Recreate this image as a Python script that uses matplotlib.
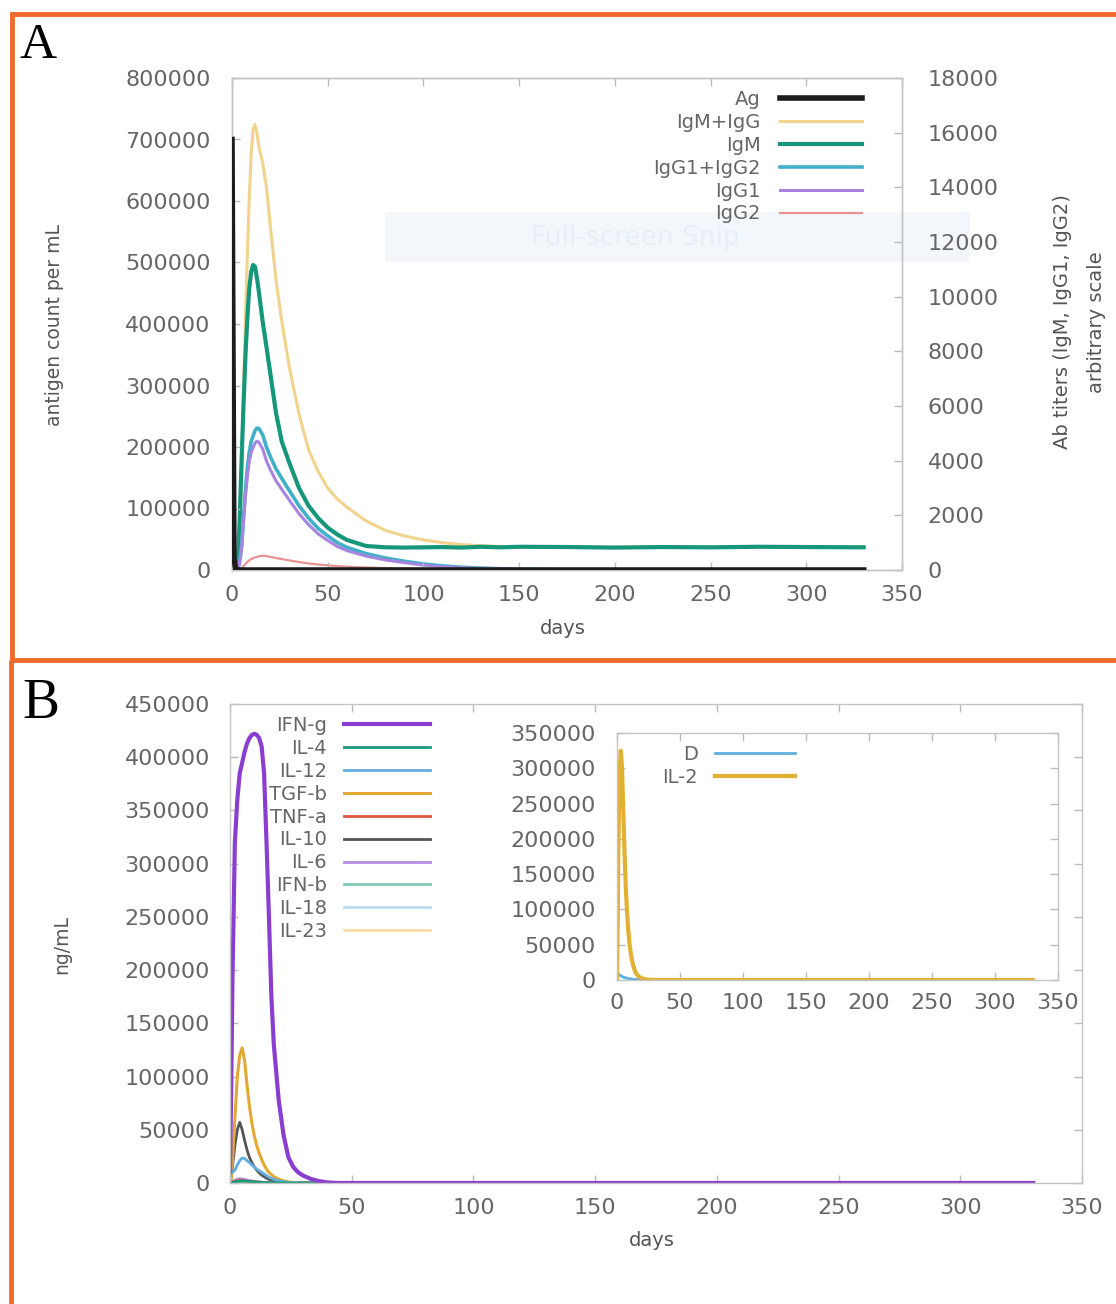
import matplotlib
matplotlib.use("Agg")
import matplotlib.pyplot as plt
from matplotlib.lines import Line2D
from matplotlib.patches import Rectangle

# ---------------- Panel A data ----------------
days_A = [0, 1, 2, 3, 4, 5, 6, 7, 8, 9, 10, 11, 12, 13, 14, 16, 18, 20, 23, 26,
          30, 35, 40, 45, 50, 55, 60, 70, 80, 90, 100, 110, 120, 130, 140, 150,
          175, 200, 225, 250, 275, 300, 330]
ag = [700000, 20000, 0, 0, 0, 0, 0, 0, 0, 0, 0, 0, 0, 0, 0, 0, 0, 0, 0, 0,
      0, 0, 0, 0, 0, 0, 0, 0, 0, 0, 0, 0, 0, 0, 0, 0, 0, 0, 0, 0, 0, 0, 0]
igm_igg = [0, 0, 0, 300, 1500, 3500, 6500, 9300, 11500, 13600, 15200, 16100, 16300, 16000,
           15500, 14900, 14000, 12600, 10600, 9100, 7400, 5700, 4400, 3600, 3000, 2600,
           2300, 1800, 1450, 1250, 1100, 1000, 930, 890, 860, 850, 840, 830, 840, 830,
           845, 840, 830]
igm = [0, 0, 0, 300, 1800, 4000, 6000, 7800, 9200, 10300, 10900, 11160, 11100, 10700,
       10200, 9100, 8160, 7200, 5740, 4700, 3910, 3000, 2350, 1900, 1550, 1300, 1100,
       880, 830, 820, 830, 840, 820, 850, 830, 850, 840, 820, 840, 830, 850, 840, 830]
igg1_igg2 = [0, 0, 0, 0, 300, 840, 1900, 2900, 3700, 4300, 4700, 4900, 5100, 5190, 5180,
             4950, 4500, 4150, 3700, 3350, 2900, 2350, 1900, 1520, 1250, 1000, 830, 600,
             440, 320, 220, 150, 100, 70, 45, 25, 10, 0, 0, 0, 0, 0, 0]
igg1 = [0, 0, 0, 0, 280, 780, 1760, 2680, 3410, 3950, 4300, 4470, 4640, 4710, 4680, 4430,
        3990, 3670, 3260, 2950, 2550, 2060, 1660, 1320, 1080, 860, 710, 510, 370, 270,
        180, 120, 80, 55, 35, 20, 10, 0, 0, 0, 0, 0, 0]
igg2 = [0, 0, 0, 0, 20, 60, 140, 220, 290, 350, 400, 430, 460, 480, 500, 520, 510, 480,
        440, 400, 350, 290, 240, 200, 170, 140, 120, 90, 70, 50, 40, 30, 20, 15, 10, 5,
        0, 0, 0, 0, 0, 0, 0]

# ---------------- Panel B data ----------------
days_B = [0, 0.5, 1, 2, 3, 4, 5, 6, 7, 8, 9, 10, 11, 12, 13, 14, 15, 16, 17, 18, 20, 22,
          24, 26, 28, 30, 33, 36, 40, 45, 50, 60, 80, 100, 150, 200, 250, 300, 330]
ifn_g = [10000, 90000, 190000, 320000, 360000, 385000, 395000, 405000, 413000, 418000,
         421000, 422000, 421000, 418000, 410000, 385000, 320000, 250000, 175000, 130000,
         78000, 45000, 24000, 15000, 10000, 7000, 4000, 2000, 500, 0, 0, 0, 0, 0, 0, 0,
         0, 0, 0]
il_4 = [0, 200, 500, 1000, 1500, 1800, 2000, 1900, 1700, 1500, 1300, 1100, 900, 750, 600,
        500, 400, 300, 250, 200, 120, 80, 50, 30, 20, 10, 0, 0, 0, 0, 0, 0, 0, 0, 0, 0,
        0, 0, 0]
il_12 = [15000, 12000, 10000, 12000, 17000, 21000, 23500, 23000, 21000, 19000, 17000,
         15000, 13000, 11500, 10000, 8500, 7000, 5500, 4500, 3500, 2000, 1200, 600, 300,
         100, 0, 0, 0, 0, 0, 0, 0, 0, 0, 0, 0, 0, 0, 0]
tgf_b = [0, 5000, 20000, 60000, 100000, 120000, 127000, 115000, 92000, 72000, 56000,
         44000, 35000, 28000, 22000, 17000, 13000, 10000, 8000, 6000, 3500, 2000, 1000,
         500, 200, 0, 0, 0, 0, 0, 0, 0, 0, 0, 0, 0, 0, 0, 0]
tnf_a = [0, 300, 800, 1500, 2200, 2500, 2400, 2100, 1800, 1500, 1200, 1000, 800, 650, 500,
         400, 300, 220, 160, 120, 60, 30, 10, 0, 0, 0, 0, 0, 0, 0, 0, 0, 0, 0, 0, 0, 0,
         0, 0]
il_10 = [0, 5000, 15000, 35000, 50000, 57000, 50000, 40000, 31000, 24000, 19000, 15000,
         12000, 9500, 7500, 6000, 4500, 3500, 2700, 2000, 1200, 700, 400, 200, 100, 0,
         0, 0, 0, 0, 0, 0, 0, 0, 0, 0, 0, 0, 0]
il_6 = [0, 500, 1200, 2500, 3500, 4000, 3800, 3300, 2800, 2300, 1900, 1500, 1200, 950,
        750, 600, 450, 350, 270, 200, 110, 60, 30, 10, 0, 0, 0, 0, 0, 0, 0, 0, 0, 0, 0,
        0, 0, 0, 0]
ifn_b = [0, 200, 400, 700, 900, 1000, 950, 850, 750, 650, 550, 450, 380, 300, 250, 200,
         160, 120, 90, 70, 40, 20, 10, 0, 0, 0, 0, 0, 0, 0, 0, 0, 0, 0, 0, 0, 0, 0, 0]
il_18 = [0, 300, 600, 1000, 1300, 1400, 1300, 1150, 1000, 850, 700, 580, 470, 380, 300,
         240, 190, 150, 110, 80, 45, 25, 10, 0, 0, 0, 0, 0, 0, 0, 0, 0, 0, 0, 0, 0, 0,
         0, 0]
il_23 = [0, 200, 500, 800, 1000, 1100, 1000, 900, 780, 660, 550, 450, 370, 300, 240, 190,
         150, 115, 85, 60, 35, 20, 10, 0, 0, 0, 0, 0, 0, 0, 0, 0, 0, 0, 0, 0, 0, 0, 0]

# inset
days_C = [0, 0.5, 1, 2, 3, 4, 5, 6, 7, 8, 9, 10, 11, 12, 13, 14, 15, 16, 17, 18, 20, 22,
          24, 26, 28, 30, 40, 60, 100, 150, 200, 250, 300, 330]
d_cells = [10000, 9500, 9000, 7000, 6000, 5000, 4200, 3500, 3000, 2500, 2100, 1800, 1500,
           1300, 1100, 900, 750, 600, 500, 400, 250, 150, 90, 50, 20, 0, 0, 0, 0, 0, 0,
           0, 0, 0]
il_2 = [0, 80000, 180000, 290000, 325000, 300000, 240000, 180000, 130000, 95000, 70000,
        50000, 37000, 27000, 20000, 14000, 10000, 7500, 5500, 4000, 2200, 1200, 600, 300,
        150, 50, 0, 0, 0, 0, 0, 0, 0, 0]

xticks = [0, 50, 100, 150, 200, 250, 300, 350]
yticks_A_left = [0, 100000, 200000, 300000, 400000, 500000, 600000, 700000, 800000]
yticks_A_right = [0, 2000, 4000, 6000, 8000, 10000, 12000, 14000, 16000, 18000]
yticks_B = [0, 50000, 100000, 150000, 200000, 250000, 300000, 350000, 400000, 450000]
yticks_C = [0, 50000, 100000, 150000, 200000, 250000, 300000, 350000]

# ---------------- figure ----------------
W, H = 1116, 1304
fig = plt.figure(figsize=(W / 100, H / 100), dpi=100)
fig.patch.set_facecolor("white")

def rect(x0, y0, x1, y1):
    return [x0 / W, 1 - y1 / H, (x1 - x0) / W, (y1 - y0) / H]

def ftext(x, y, s, **kw):
    return fig.text(x / W, 1 - y / H, s, **kw)

TICKC = "#666666"
LABC = "#555555"
FRAMEC = "#c4c4c4"
TFS = 16

def style(ax, lpad, bpad):
    for s in ax.spines.values():
        s.set_color(FRAMEC)
        s.set_linewidth(1.0)
    ax.tick_params(axis="both", direction="in", length=6, width=1, color="#bbbbbb",
                   labelcolor=TICKC, labelsize=TFS)
    ax.tick_params(axis="y", pad=lpad)
    ax.tick_params(axis="x", pad=bpad)

def legend(ax, handles, right, top, hl, tp):
    lg = ax.legend(handles=handles, loc="upper right",
                   bbox_to_anchor=(right / W, 1 - top / H),
                   bbox_transform=fig.transFigure, frameon=False, markerfirst=False,
                   fontsize=14, handlelength=hl, handletextpad=tp, labelspacing=0.2,
                   borderpad=0, borderaxespad=0)
    for t in lg.get_texts():
        t.set_color(TICKC)
    return lg

# faint screenshot overlay (behind the axes content)
fig.patches.append(Rectangle((385 / W, 1 - 262 / H), (970 - 385) / W, 50 / H,
                             transform=fig.transFigure, facecolor="#f3f7fb",
                             edgecolor="none", zorder=-1))
ftext(635, 238, "Full-screen Snip", ha="center", va="center", fontsize=19,
      color="#e8eef5", zorder=-0.5)

# ---- Panel A
axA = fig.add_axes(rect(232, 78, 902, 570))
axA.set_xlim(0, 350)
axA.set_ylim(0, 800000)
axA.set_xticks(xticks)
axA.set_yticks(yticks_A_left)
axA.set_xticklabels([str(v) for v in xticks])
axA.set_yticklabels([str(v) for v in yticks_A_left])
style(axA, 15.5, 10.5)
axA.tick_params(axis="x", top=True)
axA.patch.set_visible(False)
axA2 = axA.twinx()
axA2.set_ylim(0, 18000)
axA2.set_yticks(yticks_A_right)
axA2.set_yticklabels([str(v) for v in yticks_A_right])
style(axA2, 18.5, 10.5)
axA2.tick_params(axis="y", left=False, right=True)
axA2.patch.set_visible(False)
axA.set_zorder(2)

lA = []
lA.append(axA.plot(days_A, ag, color="#1c1c1c", lw=4.0, label="Ag", zorder=5)[0])
lA.append(axA2.plot(days_A, igm_igg, color="#f2d38c", lw=2.2, label="IgM+IgG")[0])
lA.append(axA2.plot(days_A, igm, color="#17977a", lw=3.0, label="IgM")[0])
lA.append(axA2.plot(days_A, igg1_igg2, color="#3fb0c8", lw=2.6, label="IgG1+IgG2")[0])
lA.append(axA2.plot(days_A, igg1, color="#a784e0", lw=2.2, label="IgG1")[0])
lA.append(axA2.plot(days_A, igg2, color="#e89292", lw=1.6, label="IgG2")[0])

ftext(563, 628, "days", fontsize=14, color=LABC, ha="center", va="center")
ftext(55, 325, "antigen count per mL", rotation=90, fontsize=13.5, color=LABC,
      ha="center", va="center")
ftext(1062, 322, "Ab titers (IgM, IgG1, IgG2)", rotation=90, ha="center", va="center",
      fontsize=14, color=LABC)
ftext(1096, 322, "arbitrary scale", rotation=90, ha="center", va="center",
      fontsize=14, color=LABC)

legend(axA, lA, 862, 90, 4.2, 1.0)

# ---- Panel B
axB = fig.add_axes(rect(230, 704, 1082, 1183))
axB.set_xlim(0, 350)
axB.set_ylim(0, 450000)
axB.set_xticks(xticks)
axB.set_yticks(yticks_B)
axB.set_xticklabels([str(v) for v in xticks])
axB.set_yticklabels([str(v) for v in yticks_B])
style(axB, 14.5, 10.5)
axB.tick_params(axis="both", top=True, right=True)

series_B = [
    ("IFN-g", ifn_g, "#8a3ed0", 3.0),
    ("IL-4", il_4, "#1a9a78", 2.0),
    ("IL-12", il_12, "#5eaee0", 2.0),
    ("TGF-b", tgf_b, "#e2a834", 2.2),
    ("TNF-a", tnf_a, "#e0553f", 2.0),
    ("IL-10", il_10, "#555555", 2.0),
    ("IL-6", il_6, "#b48ee2", 2.0),
    ("IFN-b", ifn_b, "#7fc9b6", 2.0),
    ("IL-18", il_18, "#b9dbee", 2.0),
    ("IL-23", il_23, "#f6dea4", 2.0),
]
lB = []
for name, vals, col, lw in reversed(series_B):
    lB.append(axB.plot(days_B, vals, color=col, lw=lw, label=name)[0])
lB = lB[::-1]
ftext(652, 1240, "days", fontsize=14, color=LABC, ha="center", va="center")
ftext(62, 945, "ng/mL", rotation=90, fontsize=13.5, color=LABC, ha="center",
      va="center")
legend(axB, lB, 430, 716, 4.4, 0.9)

# ---- Inset
axC = fig.add_axes(rect(617, 733, 1058, 980))
axC.set_xlim(0, 350)
axC.set_ylim(0, 350000)
axC.set_xticks(xticks)
axC.set_yticks(yticks_C)
axC.set_xticklabels([str(v) for v in xticks])
axC.set_yticklabels([str(v) for v in yticks_C])
style(axC, 15.5, 9.5)
axC.tick_params(axis="both", top=True, right=True)
lC = []
lC.append(axC.plot(days_C, d_cells, color="#5eaee0", lw=2.0, label="D")[0])
lC.append(axC.plot(days_C, il_2, color="#e2b032", lw=3.0, label="IL-2")[0])
legend(axC, lC, 795, 745, 4.1, 0.9)

# ---- panel letters
ftext(20, 58, "A", fontsize=37, family="Liberation Serif", color="black",
      ha="left", va="baseline")
ftext(22, 718, "B", fontsize=40, family="Liberation Serif", color="black",
      ha="left", va="baseline")

# ---- orange frame
OR = "#f06b2a"
def fline(x0, y0, x1, y1):
    fig.add_artist(Line2D([x0 / W, x1 / W], [1 - y0 / H, 1 - y1 / H],
                          transform=fig.transFigure, color=OR, lw=3.5,
                          solid_capstyle="butt"))
fline(10, 14, W, 14)
fline(12, 12, 12, 660)
fline(10, 660, W, 660)
fline(11, 660, 11, H)

fig.savefig("out.png", dpi=100, facecolor="white")
